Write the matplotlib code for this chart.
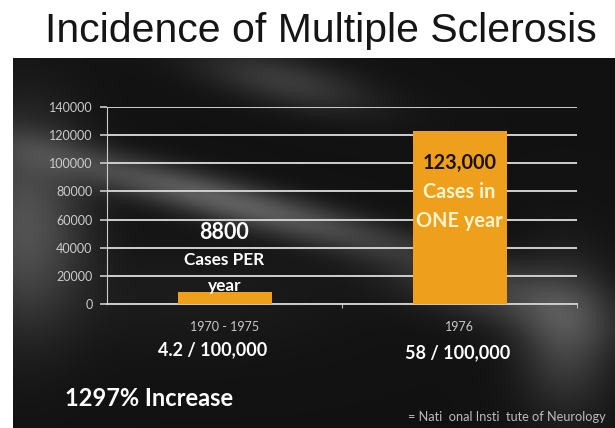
import numpy as np
import matplotlib.pyplot as plt

categories = ['1970 - 1975', '1976']
cases = [8800, 123000]
rates = ['4.2 / 100,000', '58 / 100,000']
yticks = [0, 20000, 40000, 60000, 80000, 100000, 120000, 140000]

W, H = 615, 428
fig = plt.figure(figsize=(W / 100, H / 100), dpi=100)
fig.patch.set_facecolor('white')

# dark slide background with soft diagonal light streaks
bg = fig.add_axes([13 / W, 0, 1 - 13 / W, 1 - 58 / H])
yy, xx = np.mgrid[0:1:300j, 0:1:480j]


def glow(cx, cy, sx, sy, amp):
    return amp * np.exp(-(((xx - cx) / sx) ** 2 + ((yy - cy) / sy) ** 2))


def band(y0, x0, slope, w, cx, sx, amp):
    d = (yy - y0) - slope * (xx - x0)
    return amp * np.exp(-(d / w) ** 2) * np.exp(-((xx - cx) / sx) ** 2)


img = 0.07 + np.zeros_like(xx)
img += glow(0.02, 0.45, 0.10, 0.28, 0.25)
img += band(0.30, 0.15, 0.42, 0.06, 0.35, 0.30, 0.30)
img += band(0.06, 0.45, 0.35, 0.07, 0.45, 0.15, 0.16)
img += band(0.62, 0.75, 0.35, 0.09, 0.80, 0.18, 0.16)
img += glow(0.92, 0.75, 0.08, 0.20, 0.20)
img += glow(0.30, 0.65, 0.25, 0.15, 0.04)
img = np.clip(img, 0, 1)
bg.imshow(img, cmap='gray', vmin=0, vmax=1, aspect='auto', origin='upper',
          extent=[0, 1, 0, 1])
bg.set_axis_off()

ax = fig.add_axes([107 / W, 1 - 304 / H, 470 / W, 197 / H])
ax.set_facecolor('none')
x = np.arange(len(categories))
ax.bar(x, cases, width=0.4, color='#eea01c', zorder=3)
ax.set_xlim(-0.5, 1.5)
ax.set_ylim(0, 140000)
ax.set_yticks(yticks)
ax.set_yticklabels([str(v) for v in yticks], color='#d0d0d0', fontsize=9,
                   family='Lato')
ax.yaxis.grid(True, color='#cfcfcf', linewidth=1.4, zorder=1)
ax.set_xticks([0.5, 1.5])
ax.set_xticklabels(['', ''])
ax.tick_params(axis='x', colors='#bbbbbb', length=3)
ax.tick_params(axis='y', colors='#cccccc', length=5, width=1.2, pad=5.5)
for s in ['top', 'right']:
    ax.spines[s].set_visible(False)
ax.spines['left'].set_color('#cccccc')
ax.spines['bottom'].set_color('#cccccc')
ax.spines['bottom'].set_linewidth(1.4)

fnt = ['Lato', 'DejaVu Sans']
# labels on bars
ax.text(0, 50500, '8800', ha='center', va='center', color='white',
        fontsize=15.5, fontweight='bold', family=fnt, zorder=4)
ax.text(0, 31300, 'Cases PER', ha='center', va='center', color='white',
        fontsize=12.4, fontweight='bold', family=fnt, zorder=4)
ax.text(0, 12800, 'year', ha='center', va='center', color='white',
        fontsize=12.4, fontweight='bold', family=fnt, zorder=4)
ax.text(1, 100200, '123,000', ha='center', va='center', color='#1a1208',
        fontsize=14.3, fontweight='bold', family=fnt, zorder=4)
ax.text(1, 79600, 'Cases in', ha='center', va='center', color='#fff4d0',
        fontsize=14.3, fontweight='bold', family=fnt, zorder=4)
ax.text(1, 59000, 'ONE year', ha='center', va='center', color='#fff4d0',
        fontsize=14.3, fontweight='bold', family=fnt, zorder=4)

# category labels and rates under the axis
for i in range(len(categories)):
    ax.text(x[i], -16300, categories[i], ha='center', va='center',
            color='#c8c8c8', fontsize=9, family=fnt)
ax.text(x[0] - 0.05, -32700, rates[0], ha='center', va='center',
        color='white', fontsize=13, fontweight='bold', family=fnt)
ax.text(x[1] - 0.01, -34800, rates[1], ha='center', va='center',
        color='white', fontsize=13, fontweight='bold', family=fnt)

fig.text(0.522, 1 - 31 / H, 'Incidence of Multiple Sclerosis', ha='center',
         va='center', fontsize=29.5, family='Liberation Sans', color='#151515')
fig.text(65 / W, 1 - 398 / H, '1297% Increase', ha='left', va='center',
         fontsize=17, fontweight='bold', family=fnt, color='white')
fig.text(408 / W, 1 - 417 / H, '= Nati  onal Insti  tute of Neurology',
         ha='left', va='center', fontsize=9.2, family=fnt, color='#bbbbbb')

fig.savefig('out.png', dpi=100)
